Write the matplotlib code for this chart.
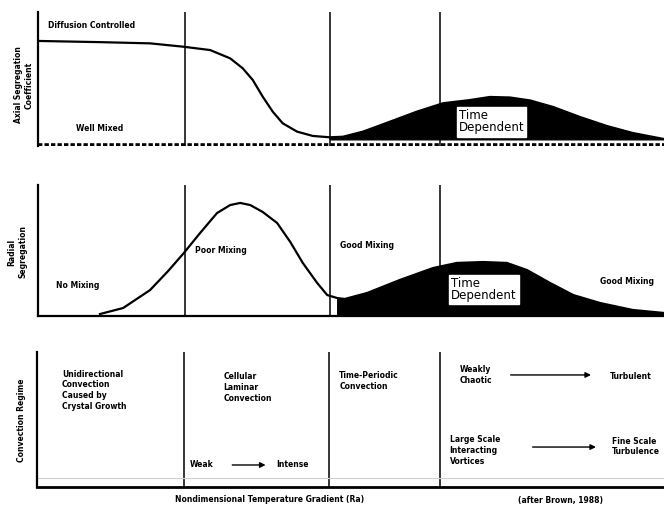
import numpy as np
import matplotlib
matplotlib.use("Agg")
import matplotlib.pyplot as plt

# ------------------------------------------------------------
# Datos leidos del esquema (x = gradiente adimensional, 0..100)
# ------------------------------------------------------------
regimen_x = [23.5, 46.6, 64.2]   # limites entre regimenes

# Panel 1: coeficiente de segregacion axial
axial_x = [0, 10.0, 17.9, 23.2, 27.5, 30.7, 32.7, 34.3, 35.9, 37.5, 39.1, 41.4, 43.9,
           46.6, 48.7, 51.9, 56.2, 60.5, 64.7, 69.0, 72.2, 75.4, 78.6, 82.3, 86.6,
           90.9, 95.0, 100]
axial_y = [0.784, 0.775, 0.766, 0.741, 0.716, 0.654, 0.580, 0.493, 0.368, 0.256, 0.169,
           0.107, 0.075, 0.065, 0.069, 0.107, 0.181, 0.256, 0.319, 0.343, 0.366, 0.362,
           0.340, 0.291, 0.216, 0.149, 0.097, 0.052]
axial_base = 0.05

# Panel 2: segregacion radial
radial_x = [9.9, 13.6, 17.9, 20.8, 23.3, 25.9, 28.6, 30.7, 32.3, 33.9, 35.9, 38.2, 40.3,
            42.3, 44.6, 46.2, 47.8, 49.0, 52.6, 57.8, 63.1, 66.9, 71.1, 74.9, 78.1,
            81.8, 85.5, 89.8, 95.0, 100]
radial_y = [0.015, 0.061, 0.198, 0.344, 0.481, 0.634, 0.786, 0.847, 0.863, 0.847, 0.794,
            0.710, 0.565, 0.405, 0.252, 0.160, 0.137, 0.130, 0.176, 0.275, 0.366, 0.405,
            0.412, 0.405, 0.351, 0.252, 0.160, 0.099, 0.046, 0.023]

W, H = 664, 512
TXT = dict(fontsize=5.5, fontweight="bold", color="black")


def rect(x0, y_top, x1, y_bot):
    # convierte un rectangulo en pixeles a coordenadas de figura
    return [x0 / W, 1 - y_bot / H, (x1 - x0) / W, (y_bot - y_top) / H]


def base_axes(ax):
    ax.set_xlim(0, 100)
    ax.set_ylim(0, 1)
    ax.set_xticks([]); ax.set_yticks([])
    for s in ["top", "right"]:
        ax.spines[s].set_visible(False)
    ax.spines["left"].set_linewidth(1.6)
    for xv in regimen_x:
        ax.axvline(xv, color="black", lw=1.1, zorder=1)


fig = plt.figure(figsize=(W / 100, H / 100), dpi=100)

# ---------------- Panel 1 ----------------
ax1 = fig.add_axes(rect(38, 12, 664, 146))
base_axes(ax1)
ax1.spines["bottom"].set_visible(False)
ax1.axhline(0.005, color="black", lw=2.6, ls=(0, (1.2, 0.6)), zorder=3)
ax1.plot(axial_x, axial_y, color="black", lw=1.6, zorder=3, solid_joinstyle="round")
xa = np.array(axial_x); ya = np.array(axial_y)
m = xa >= 46.6
ax1.fill_between(xa[m], ya[m], axial_base, color="black", zorder=2.5)
ax1.text(1.6, 0.90, "Diffusion Controlled", ha="left", va="center", **TXT)
ax1.text(9.9, 0.13, "Well Mixed", ha="center", va="center", **TXT)
ax1.text(67.2, 0.18, "Time\nDependent", ha="left", va="center", fontsize=8.5,
         linespacing=0.9, zorder=4,
         bbox=dict(facecolor="white", edgecolor="white", pad=1.5))

# ---------------- Panel 2 ----------------
ax2 = fig.add_axes(rect(38, 185, 664, 316))
base_axes(ax2)
ax2.spines["bottom"].set_linewidth(1.6)
ax2.plot(radial_x, radial_y, color="black", lw=1.6, zorder=3, solid_joinstyle="round")
xr = np.array(radial_x); yr = np.array(radial_y)
m = xr >= 47.8
ax2.fill_between(xr[m], yr[m], 0, color="black", zorder=2.5)
ax2.text(6.4, 0.23, "No Mixing", ha="center", va="center", **TXT)
ax2.text(25.1, 0.50, "Poor Mixing", ha="left", va="center", **TXT)
ax2.text(48.2, 0.54, "Good Mixing", ha="left", va="center", **TXT)
ax2.text(89.8, 0.26, "Good Mixing", ha="left", va="center", **TXT)
ax2.text(66.0, 0.20, "Time\nDependent", ha="left", va="center", fontsize=8.5,
         linespacing=0.9, zorder=4,
         bbox=dict(facecolor="white", edgecolor="white", pad=1.5))

# ---------------- Panel 3 ----------------
ax3 = fig.add_axes(rect(37, 352, 664, 487))
base_axes(ax3)
ax3.spines["bottom"].set_linewidth(2.0)
ax3.axhline(0.07, color="#cfcfcf", lw=0.8)
ax3.text(4.0, 0.87, "Unidirectional\nConvection\nCaused by\nCrystal Growth",
         ha="left", va="top", linespacing=1.25, **TXT)
ax3.text(29.7, 0.85, "Cellular\nLaminar\nConvection", ha="left", va="top",
         linespacing=1.25, **TXT)
ax3.text(48.2, 0.86, "Time-Periodic\nConvection", ha="left", va="top",
         linespacing=1.25, **TXT)
ax3.text(67.4, 0.90, "Weakly\nChaotic", ha="left", va="top", linespacing=1.25, **TXT)
ax3.text(65.8, 0.385, "Large Scale\nInteracting\nVortices", ha="left", va="top",
         linespacing=1.25, **TXT)
ax3.text(24.3, 0.163, "Weak", ha="left", va="center", **TXT)
ax3.text(38.2, 0.163, "Intense", ha="left", va="center", **TXT)
ax3.text(91.4, 0.815, "Turbulent", ha="left", va="center", **TXT)
ax3.text(91.7, 0.30, "Fine Scale\nTurbulence", ha="left", va="center",
         linespacing=1.25, **TXT)
arrow = dict(arrowstyle="-|>", color="black", lw=1.0, mutation_scale=8)
ax3.annotate("", xy=(36.9, 0.163), xytext=(30.7, 0.163), arrowprops=arrow)
ax3.annotate("", xy=(88.8, 0.83), xytext=(75.1, 0.83), arrowprops=arrow)
ax3.annotate("", xy=(89.6, 0.296), xytext=(78.6, 0.296), arrowprops=arrow)

# ---------------- Etiquetas ----------------
fig.text(24 / W, 1 - 85 / H, "Axial Segregation\nCoefficient", rotation=90,
         ha="center", va="center", linespacing=1.3, **TXT)
fig.text(17 / W, 1 - 252 / H, "Radial\nSegregation", rotation=90,
         ha="center", va="center", linespacing=1.3, **TXT)
fig.text(22 / W, 1 - 420 / H, "Convection Regime", rotation=90,
         ha="center", va="center", **TXT)
fig.text(270 / W, 1 - 500 / H, "Nondimensional Temperature Gradient (Ra)",
         ha="center", va="center", **TXT)
fig.text(560 / W, 1 - 500 / H, "(after Brown, 1988)", ha="center", va="center", **TXT)

fig.savefig("out.png", dpi=100, facecolor="white")
